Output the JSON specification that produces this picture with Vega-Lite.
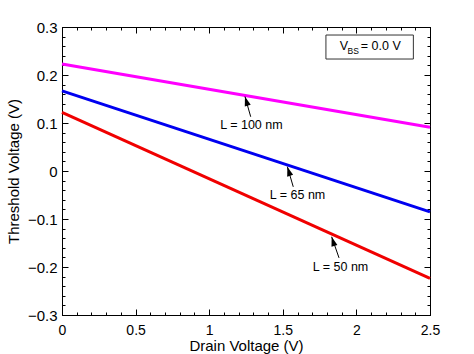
{
  "$schema": "https://vega.github.io/schema/vega-lite/v6.json",
  "width": 368,
  "height": 288,
  "autosize": {"type": "none"},
  "padding": {"left": 62, "top": 27, "right": 44, "bottom": 39},
  "background": "white",
  "config": {
    "view": {"stroke": "black", "strokeWidth": 1},
    "font": "Liberation Sans",
    "axis": {
      "grid": false,
      "domain": false,
      "tickColor": "black",
      "tickWidth": 1,
      "labelColor": "black",
      "titleColor": "black",
      "labelFont": "Liberation Sans",
      "titleFont": "Liberation Sans",
      "labelFontSize": 15,
      "titleFontSize": 15,
      "titleFontWeight": "normal",
      "labelOverlap": false,
      "labelFlush": false
    }
  },
  "resolve": {"axis": {"x": "independent", "y": "independent"}},
  "datasets": {
    "curves": [
      {"L": "100", "vd": 0, "vt": 0.223},
      {"L": "100", "vd": 2.5, "vt": 0.091},
      {"L": "65", "vd": 0, "vt": 0.167},
      {"L": "65", "vd": 2.5, "vt": -0.085},
      {"L": "50", "vd": 0, "vt": 0.122},
      {"L": "50", "vd": 2.5, "vt": -0.2235}
    ],
    "arrows": [
      {"label": "L = 100 nm", "tx": 1.282, "ty": 0.113, "hx": 1.243, "hy": 0.155, "lx": 1.287, "ly": 0.096},
      {"label": "L = 65 nm", "tx": 1.571, "ty": -0.033, "hx": 1.531, "hy": 0.009, "lx": 1.6, "ly": -0.05},
      {"label": "L = 50 nm", "tx": 1.882, "ty": -0.181, "hx": 1.832, "hy": -0.137, "lx": 1.892, "ly": -0.199}
    ],
    "box": [{"x1": 1.793, "x2": 2.387, "y1": 0.2833, "y2": 0.2333}],
    "boxtext": [
      {"t": "V", "x": 1.887, "y": 0.2531},
      {"t": "= 0.0 V", "x": 2.03, "y": 0.2531}
    ],
    "boxsub": [{"t": "BS", "x": 1.94, "y": 0.2431}]
  },
  "layer": [
    {
      "data": {"name": "curves"},
      "mark": {"type": "line", "strokeWidth": 3},
      "encoding": {
        "x": {
          "field": "vd", "type": "quantitative",
          "scale": {"domain": [0, 2.5], "nice": false, "zero": false},
          "axis": {
            "orient": "bottom", "title": "Drain Voltage (V)",
            "values": [0, 0.5, 1, 1.5, 2, 2.5], "format": "~g",
            "tickSize": -6, "labelPadding": 14, "labelFontSize": 14, "titlePadding": 1
          }
        },
        "y": {
          "field": "vt", "type": "quantitative",
          "scale": {"domain": [-0.3, 0.3], "nice": false, "zero": false},
          "axis": {
            "orient": "left", "title": "Threshold Voltage (V)",
            "values": [-0.3, -0.2, -0.1, 0, 0.1, 0.2, 0.3], "format": "~g",
            "tickSize": -6, "labelPadding": 11, "titlePadding": 6
          }
        },
        "color": {
          "field": "L", "type": "nominal",
          "scale": {"domain": ["100", "65", "50"], "range": ["#ff00ff", "#0000f0", "#f00000"]},
          "legend": null
        }
      }
    },
    {
      "data": {"name": "arrows"},
      "mark": {"type": "rule", "color": "black", "strokeWidth": 1},
      "encoding": {
        "x": {
          "field": "tx", "type": "quantitative",
          "axis": {
            "orient": "bottom", "title": null, "labels": false,
            "values": [0, 0.1, 0.2, 0.3, 0.4, 0.5, 0.6, 0.7, 0.8, 0.9, 1, 1.1, 1.2, 1.3, 1.4, 1.5, 1.6, 1.7, 1.8, 1.9, 2, 2.1, 2.2, 2.3, 2.4, 2.5],
            "tickSize": -3
          }
        },
        "y": {
          "field": "ty", "type": "quantitative",
          "axis": {
            "orient": "left", "title": null, "labels": false,
            "values": [-0.3, -0.28, -0.26, -0.24, -0.22, -0.2, -0.18, -0.16, -0.14, -0.12, -0.1, -0.08, -0.06, -0.04, -0.02, 0, 0.02, 0.04, 0.06, 0.08, 0.1, 0.12, 0.14, 0.16, 0.18, 0.2, 0.22, 0.24, 0.26, 0.28, 0.3],
            "tickSize": -3
          }
        },
        "x2": {"field": "hx"},
        "y2": {"field": "hy"}
      }
    },
    {
      "data": {"name": "arrows"},
      "mark": {"type": "point", "shape": "M0,0L-0.65,2L0.65,2Z", "filled": true, "color": "black", "opacity": 1, "size": 90, "angle": 343, "strokeWidth": 0},
      "encoding": {
        "x": {
          "field": "hx", "type": "quantitative",
          "axis": {
            "orient": "top", "title": null, "labels": false,
            "values": [0, 0.5, 1, 1.5, 2, 2.5], "tickSize": -6
          }
        },
        "y": {
          "field": "hy", "type": "quantitative",
          "axis": {
            "orient": "right", "title": null, "labels": false,
            "values": [-0.3, -0.2, -0.1, 0, 0.1, 0.2, 0.3], "tickSize": -6
          }
        }
      }
    },
    {
      "data": {"name": "arrows"},
      "mark": {"type": "text", "fontSize": 12.5, "align": "center", "baseline": "middle", "color": "black", "font": "Liberation Sans"},
      "encoding": {
        "x": {
          "field": "lx", "type": "quantitative",
          "axis": {
            "orient": "top", "title": null, "labels": false,
            "values": [0, 0.1, 0.2, 0.3, 0.4, 0.5, 0.6, 0.7, 0.8, 0.9, 1, 1.1, 1.2, 1.3, 1.4, 1.5, 1.6, 1.7, 1.8, 1.9, 2, 2.1, 2.2, 2.3, 2.4, 2.5],
            "tickSize": -3
          }
        },
        "y": {
          "field": "ly", "type": "quantitative",
          "axis": {
            "orient": "right", "title": null, "labels": false,
            "values": [-0.3, -0.28, -0.26, -0.24, -0.22, -0.2, -0.18, -0.16, -0.14, -0.12, -0.1, -0.08, -0.06, -0.04, -0.02, 0, 0.02, 0.04, 0.06, 0.08, 0.1, 0.12, 0.14, 0.16, 0.18, 0.2, 0.22, 0.24, 0.26, 0.28, 0.3],
            "tickSize": -3
          }
        },
        "text": {"field": "label"}
      }
    },
    {
      "data": {"name": "box"},
      "mark": {"type": "rect", "fill": "white", "stroke": "#333333", "strokeWidth": 1},
      "encoding": {
        "x": {"field": "x1", "type": "quantitative", "axis": null},
        "x2": {"field": "x2"},
        "y": {"field": "y1", "type": "quantitative", "axis": null},
        "y2": {"field": "y2"}
      }
    },
    {
      "data": {"name": "boxtext"},
      "mark": {"type": "text", "fontSize": 12.5, "align": "left", "baseline": "alphabetic", "color": "black", "font": "Liberation Sans"},
      "encoding": {
        "x": {"field": "x", "type": "quantitative", "axis": null},
        "y": {"field": "y", "type": "quantitative", "axis": null},
        "text": {"field": "t"}
      }
    },
    {
      "data": {"name": "boxsub"},
      "mark": {"type": "text", "fontSize": 8.5, "align": "left", "baseline": "alphabetic", "color": "black", "font": "Liberation Sans"},
      "encoding": {
        "x": {"field": "x", "type": "quantitative", "axis": null},
        "y": {"field": "y", "type": "quantitative", "axis": null},
        "text": {"field": "t"}
      }
    }
  ]
}
